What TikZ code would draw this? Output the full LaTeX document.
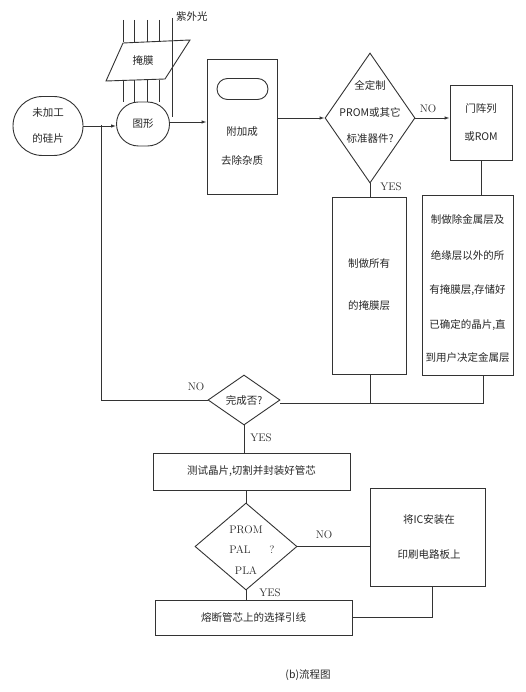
\documentclass[tikz,border=0pt]{standalone}
\usepackage{fontspec}
\newfontfamily\cjk{Noto Sans CJK SC}
\usetikzlibrary{shapes.geometric,shapes.misc,arrows.meta}
\begin{document}
\begin{tikzpicture}[x=1pt,y=-1pt,
  ln/.style={line width=0.9pt, draw=black!80},
  box/.style={ln, rectangle, inner sep=0pt},
  pill/.style={ln, rounded rectangle, inner sep=0pt},
  dia/.style={ln, diamond, inner sep=0pt},
  txt/.style={font=\cjk\fontsize{10.5}{12}\selectfont, text=black!85, inner sep=1pt},
  lat/.style={font=\fontsize{11}{12}\selectfont, text=black!85, inner sep=1pt},
  arr/.style={ln, -{Latex[length=5pt,width=3.5pt]}}
]
\useasboundingbox (0,0) rectangle (525,692);

% start stadium
\node[pill, minimum width=70pt, minimum height=59pt] (raw) at (48,126) {};
\node[txt] (rawA) at (48,113) {未加工};
\node[txt] (rawB) at (48,139) {的硅片};

% pattern stadium
\node[pill, minimum width=53pt, minimum height=44pt] (pat) at (143,124) {};
\node[txt] (patT) at (143,124) {图形};

% mask parallelogram
\draw[ln, fill=white] (123,43) -- (190,40) -- (165,79) -- (106,81) -- cycle;
\node[txt] (maskT) at (143,61) {掩膜};

% UV rays
\foreach \xx in {123,134,147,159} {
  \draw[ln] (\xx,20) -- (\xx,42);
  \draw[ln] (\xx,80) -- (\xx,102);
}
\coordinate (uvTop) at (172,18);
\coordinate (uvBot) at (172,117);
\draw[ln] (uvTop) -- (uvBot);
\node[txt, anchor=west] (uv) at (175,17) {紫外光};

% add/remove box
\node[box, minimum width=70pt, minimum height=135pt] (add) at (242,126.5) {};
\node[pill, minimum width=51pt, minimum height=21pt] (addIn) at (242.5,89) {};
\node[txt] (addA) at (242,132) {附加成};
\node[txt] (addB) at (242,160) {去除杂质};

% decision 1
\node[dia, minimum width=90pt, minimum height=130pt] (d1) at (370,118) {};
\node[txt] (d1a) at (370,85) {全定制};
\node[txt] (d1b) at (370,112) {PROM或其它};
\node[txt] (d1c) at (370,139) {标准器件?};

% gate array box
\node[box, minimum width=62pt, minimum height=75pt] (ga) at (481,122.5) {};
\node[txt] (gaA) at (481,109) {门阵列};
\node[txt] (gaB) at (481,137) {或ROM};

% all masks box
\node[box, minimum width=74pt, minimum height=177pt] (allm) at (369,285.5) {};
\node[txt] (allA) at (369,264) {制做所有};
\node[txt] (allB) at (369,306) {的掩膜层};

% partial box
\node[box, minimum width=91pt, minimum height=180pt] (part) at (467.5,285) {};
\node[txt] (p1) at (467.5,220) {制做除金属层及};
\node[txt] (p2) at (467.5,255) {绝缘层以外的所};
\node[txt] (p3) at (467.5,290) {有掩膜层,存储好};
\node[txt] (p4) at (467.5,325) {已确定的晶片,直};
\node[txt] (p5) at (467.5,358) {到用户决定金属层};

% decision 2
\node[dia, minimum width=72pt, minimum height=50pt] (d2) at (244,400) {};
\node[txt] (d2T) at (244,400) {完成否?};

% test box
\node[box, minimum width=197pt, minimum height=37pt] (test) at (251.5,471.5) {};
\node[txt] (testT) at (251.5,471.5) {测试晶片,切割并封装好管芯};

% decision 3
\node[dia, minimum width=102pt, minimum height=87pt] (d3) at (246,546.5) {};
\node[lat] (d3a) at (246,530) {PROM};
\node[lat] (d3b) at (240,550) {PAL};
\node[lat] (d3q) at (272,550) {?};
\node[lat] (d3c) at (246,571) {PLA};

% IC box
\node[box, minimum width=115pt, minimum height=98pt] (ic) at (427.5,537) {};
\node[txt] (icA) at (429,520) {将IC安装在};
\node[txt] (icB) at (429,555) {印刷电路板上};

% fuse box
\node[box, minimum width=197pt, minimum height=35pt] (fuse) at (253.5,617.5) {};
\node[txt] (fuseT) at (253.5,617.5) {熔断管芯上的选择引线};

% caption
\node[txt] (cap) at (308,675) {(b)流程图};

% labels
\node[lat] (no1) at (428,109) {NO};
\node[lat] (yes1) at (391,187) {YES};
\node[lat] (no2) at (196,387) {NO};
\node[lat] (yes2) at (261,438) {YES};
\node[lat] (no3) at (324,535) {NO};
\node[lat] (yes3) at (270,593) {YES};

% connectors
\coordinate (jn) at (101,125);
\draw[arr] (raw.east) -- (pat.west |- raw.east);
\draw[arr] (pat.east |- 0,122) -- (add.west |- 0,122);
\draw[arr] (add.east |- d1.west) -- (d1.west);
\draw[arr] (d1.east) -- (ga.west |- d1.east);
\draw[ln] (ga.south) -- (ga.south |- part.north);
\draw[ln] (d1.south) -- (allm.north -| d1.south);
\coordinate (m1) at (370,403);
\coordinate (m2) at (483,403);
\draw[ln] (allm.south -| m1) -- (m1);
\draw[ln] (part.south -| m2) -- (m2) -- (d2.east |- m2);
\draw[ln] (d2.west) -- (d2.west -| jn) -- (jn);
\draw[ln] (d2.south) -- (test.north -| d2.south);
\draw[ln] (test.south -| d3.north) -- (d3.north);
\draw[ln] (d3.east) -- (ic.west |- d3.east);
\draw[ln] (d3.south) -- (fuse.north -| d3.south);
\coordinate (icc) at (432,617);
\draw[ln] (ic.south -| icc) -- (icc) -- (fuse.east |- icc);
\end{tikzpicture}
\end{document}
